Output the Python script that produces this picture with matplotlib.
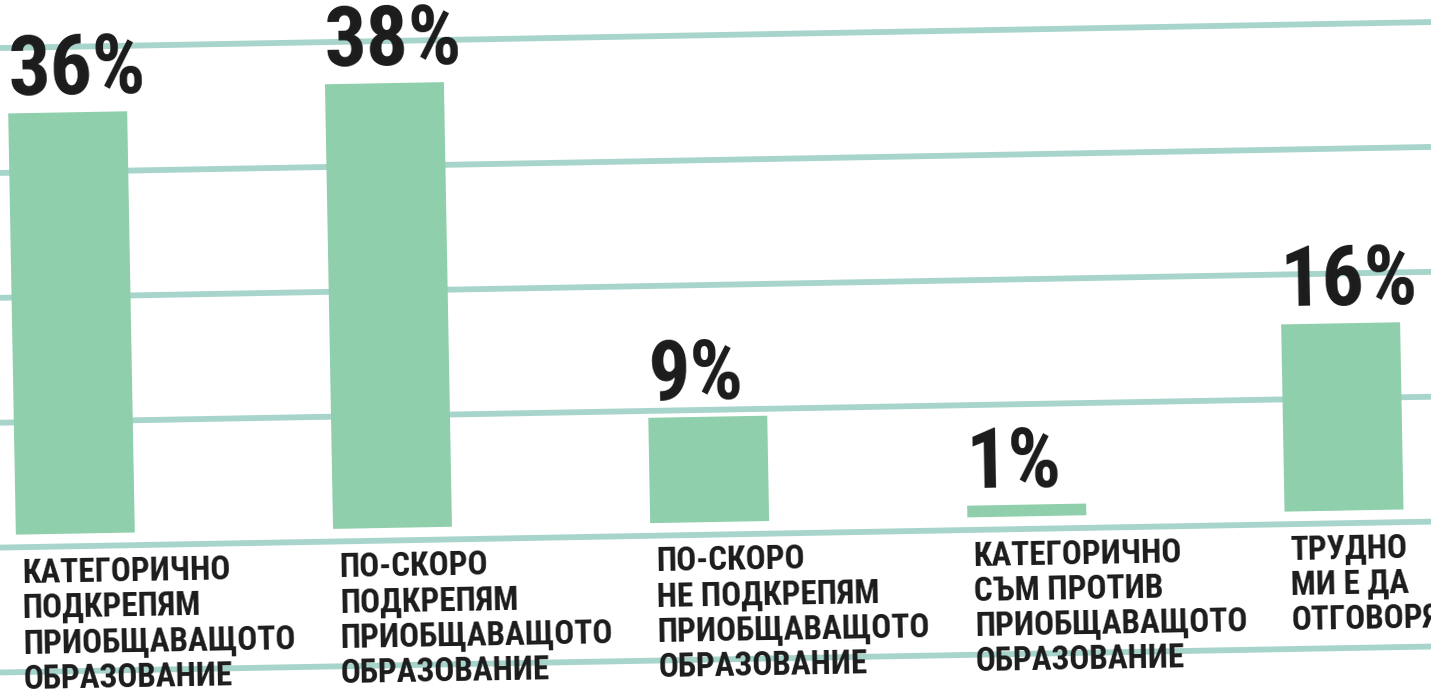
import numpy as np
import matplotlib
matplotlib.use("Agg")
import matplotlib.pyplot as plt
from matplotlib import font_manager
from matplotlib.font_manager import FontProperties
from matplotlib.textpath import TextPath
from matplotlib.transforms import Affine2D

# survey answers (bulgarian newspaper chart)
categories = [
    "КАТЕГОРИЧНО\nПОДКРЕПЯМ\nПРИОБЩАВАЩОТО\nОБРАЗОВАНИЕ",
    "ПО-СКОРО\nПОДКРЕПЯМ\nПРИОБЩАВАЩОТО\nОБРАЗОВАНИЕ",
    "ПО-СКОРО\nНЕ ПОДКРЕПЯМ\nПРИОБЩАВАЩОТО\nОБРАЗОВАНИЕ",
    "КАТЕГОРИЧНО\nСЪМ ПРОТИВ\nПРИОБЩАВАЩОТО\nОБРАЗОВАНИЕ",
    "ТРУДНО\nМИ Е ДА\nОТГОВОРЯ",
]
values = [36, 38, 9, 1, 16]
value_labels = ["36%", "38%", "9%", "1%", "16%"]

bar_color = "#8fcfab"
rule_color = "#a7d4cb"
ink = "#1b1b1b"

# want a narrow bold face, take what is there
fonts = font_manager.fontManager.ttflist
fp = None
for cand in ["Roboto Condensed", "Liberation Sans Narrow", "Open Sans Condensed"]:
    hit = [f for f in fonts if f.name == cand and f.weight in (700, "bold")]
    if hit:
        fp = FontProperties(fname=hit[0].fname)
        break
if fp is None:
    hit = [f for f in fonts if f.name == "DejaVu Sans" and "Condensed-Bold." in f.fname]
    if hit:
        fp = FontProperties(fname=hit[0].fname)
if fp is None:
    fp = FontProperties(family="Roboto", weight="bold")

def size_for_width(s, px):
    w100 = TextPath((0, 0), s, size=100, prop=fp).get_extents().width
    return px / (w100 / 100) * 72 / 100

cat_size = size_for_width("ПРИОБЩАВАЩОТО", 270)
pct_size = min(size_for_width("36%", 140), 60)

fig = plt.figure(figsize=(14.31, 6.9), dpi=100)
fig.patch.set_facecolor("white")
ax = fig.add_axes([0, 0, 1, 1])
ax.axis("off")
ax.set_autoscale_on(False)
ax.set_xlim(-0.227, 4.284)
ax.set_ylim(-14.36, 44.6)

# the printed page was photographed a little crooked
tilt = Affine2D().rotate_deg_around(715, 345, 1.04)
tr = ax.transData + tilt

# ruled lines of the page
for yy in np.arange(-11.75, 46, 10.67):
    ax.plot([-1, 5.5], [yy, yy], color=rule_color, lw=4.2,
            solid_capstyle="butt", transform=tr, zorder=0)

x = np.arange(len(values))
w = 0.375
bars = ax.bar(x, values, width=w, color=bar_color, zorder=2)
for b in bars:
    b.set_transform(tr)

for xi, v, lab in zip(x, values, value_labels):
    ax.text(xi - w / 2, v + 1.55, lab, transform=tr, rotation=1.04,
            rotation_mode="anchor", ha="left", va="baseline",
            fontproperties=fp, fontsize=pct_size, color=ink, zorder=3)

for xi, cat in zip(x, categories):
    ax.text(xi - w / 2 + 0.016, -2.0, cat, transform=tr, rotation=1.04,
            rotation_mode="anchor", ha="left", va="top", linespacing=1.13,
            fontproperties=fp, fontsize=cat_size, color=ink, zorder=3)

fig.savefig("out.png", dpi=100)
